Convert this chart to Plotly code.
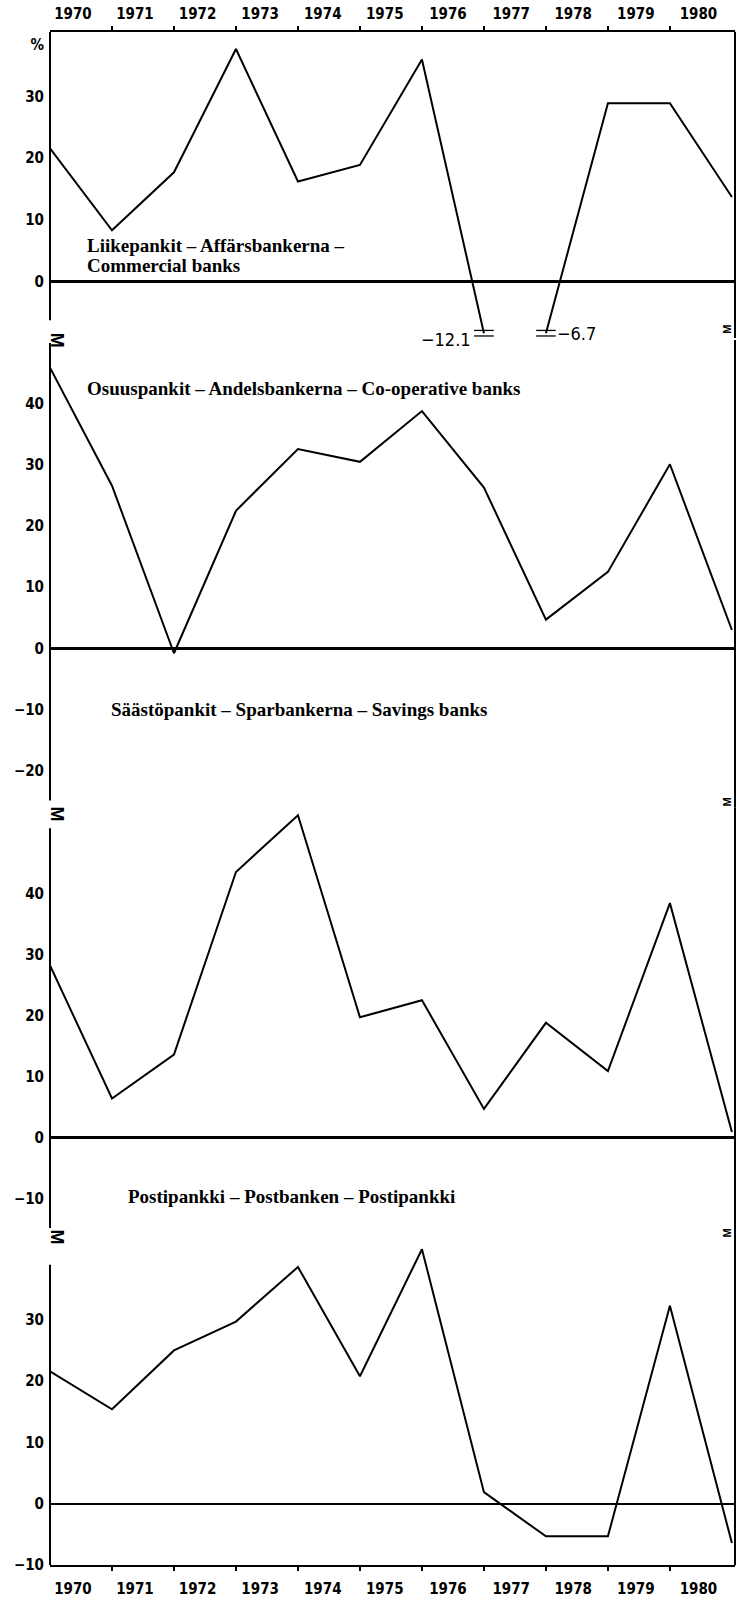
import plotly.graph_objects as go

W, H = 741, 1603

# ---------------- data ----------------
x_points = [1970, 1971, 1972, 1973, 1974, 1975, 1976, 1977, 1978, 1979, 1980, 1981]
year_labels = ["1970", "1971", "1972", "1973", "1974", "1975", "1976", "1977", "1978", "1979", "1980"]
year_label_pos = [1970.37, 1971.37, 1972.38, 1973.39, 1974.4, 1975.4,
                  1976.42, 1977.44, 1978.44, 1979.45, 1980.46]
year_bounds = [1971, 1972, 1973, 1974, 1975, 1976, 1977, 1978, 1979, 1980]

commercial = [21.6, 8.3, 17.7, 37.7, 16.2, 18.9, 36.0, -12.1, -6.7, 28.9, 28.9, 13.7]
cooperative = [45.9, 26.6, -0.8, 22.5, 32.6, 30.5, 38.8, 26.3, 4.7, 12.5, 30.1, 3.0]
savings = [28.2, 6.4, 13.6, 43.5, 52.8, 19.7, 22.5, 4.7, 18.8, 10.9, 38.4, 0.9]
postal = [21.6, 15.4, 25.0, 29.7, 38.6, 20.8, 41.5, 1.9, -5.3, -5.3, 32.3, -6.4]

# negative commercial-bank values are drawn cut off at the axis break
commercial_break_level = -8.4

p1_tickvals = [38.4, 30, 20, 10, 0]
p1_ticktext = ["%", "30", "20", "10", "0"]
p2_tickvals = [40, 30, 20, 10, 0, -10, -20]
p2_ticktext = ["40", "30", "20", "10", "0", "\u221210", "\u221220"]
p3_tickvals = [40, 30, 20, 10, 0, -10]
p3_ticktext = ["40", "30", "20", "10", "0", "\u221210"]
p4_tickvals = [30, 20, 10, 0, -10]
p4_ticktext = ["30", "20", "10", "0", "\u221210"]

label_commercial_1 = "Liikepankit \u2013 Affärsbankerna \u2013"
label_commercial_2 = "Commercial banks"
label_cooperative = "Osuuspankit \u2013 Andelsbankerna \u2013 Co-operative banks"
label_savings = "Säästöpankit \u2013 Sparbankerna \u2013 Savings banks"
label_postal = "Postipankki \u2013 Postbanken \u2013 Postipankki"

# ---------------- layout geometry (pixels) ----------------
def py(px):
    return 1 - px / H

def pxx(px):
    return px / W

X_DOM = [pxx(50), pxx(735)]
X_RANGE = [1970.0, 1981.05]

# (domain top px, domain bottom px, zero px, px per unit, axis seg top px, axis seg bottom px)
panels = [
    (32, 340, 283.0, 6.2, 32, 322),
    (342, 812, 652.0, 6.15, 345, 805),
    (812, 1245, 1144.0, 6.14, 833, 1235),
    (1245, 1574, 1512.3, 6.17, 1272, 1574),
]

def val(panel, px):
    _, _, z, ppu, _, _ = panel
    return (z - px) / ppu

SANS = "Liberation Sans Narrow, DejaVu Sans Condensed, Arial Narrow, sans-serif"
SERIF = "Liberation Serif, Times New Roman, serif"
tickfont = dict(family=SANS, size=15, color="black", weight="bold")
ytickfont = dict(family=SANS, size=15, color="black", weight="bold")

# commercial banks: cut negative values at the break, and leave a gap between cut points
c_x, c_y = [], []
prev_neg = False
for x, v in zip(x_points, commercial):
    neg = v < 0
    if neg and prev_neg:
        c_x.append(None)
        c_y.append(None)
    c_x.append(x)
    c_y.append(commercial_break_level if neg else v)
    prev_neg = neg

series = [(c_x, c_y), (x_points, cooperative), (x_points, savings), (x_points, postal)]
ticks = [(p1_tickvals, p1_ticktext), (p2_tickvals, p2_ticktext),
         (p3_tickvals, p3_ticktext), (p4_tickvals, p4_ticktext)]

fig = go.Figure()
for i, (xs, ys) in enumerate(series, start=1):
    sfx = "" if i == 1 else str(i)
    fig.add_trace(go.Scatter(
        x=xs, y=ys, mode="lines", connectgaps=False,
        line=dict(color="black", width=2),
        xaxis="x" + sfx, yaxis="y" + sfx,
        showlegend=False, hoverinfo="skip"))

# break marks (double dash) on the commercial-bank line
broken = [(x, v) for x, v in zip(x_points, commercial) if v < 0]
for dy in (0.45, -0.45):
    fig.add_trace(go.Scatter(
        x=[b[0] for b in broken], y=[commercial_break_level + dy] * len(broken),
        mode="markers",
        marker=dict(symbol="line-ew", size=14, line=dict(color="black", width=1.3)),
        xaxis="x", yaxis="y", showlegend=False, hoverinfo="skip"))

layout = dict(
    width=W, height=H,
    margin=dict(l=0, r=0, t=0, b=0),
    paper_bgcolor="white", plot_bgcolor="white",
    showlegend=False,
)

def xaxis_common():
    return dict(domain=X_DOM, range=X_RANGE, showgrid=False, zeroline=False)

minor_ticks = dict(tickmode="array", tickvals=year_bounds, ticks="outside",
                   ticklen=4, tickwidth=1.5, tickcolor="black", showgrid=False)

top_x = xaxis_common()
top_x.update(side="top", anchor="y", showline=True, linecolor="black", linewidth=2,
             tickmode="array", tickvals=year_label_pos, ticktext=year_labels,
             ticks="", tickfont=tickfont, ticklabelstandoff=5, minor=minor_ticks)
layout["xaxis"] = top_x
for i in (2, 3):
    ax = xaxis_common()
    ax.update(anchor="y%d" % i, matches="x", visible=False)
    layout["xaxis%d" % i] = ax
bot_x = xaxis_common()
bot_x.update(side="bottom", anchor="y4", matches="x", showline=True, linecolor="black",
             linewidth=2, tickmode="array", tickvals=year_label_pos, ticktext=year_labels,
             ticks="", tickfont=tickfont, ticklabelstandoff=9, minor=minor_ticks)
layout["xaxis4"] = bot_x

shapes = []
for i, p in enumerate(panels, start=1):
    top, bot, z, ppu, st, sb = p
    sfx = "" if i == 1 else str(i)
    tv, tt = ticks[i - 1]
    layout["yaxis" + sfx] = dict(
        domain=[py(bot), py(top)], range=[val(p, bot), val(p, top)],
        anchor="x" + sfx, showgrid=False, showline=False, ticks="",
        tickmode="array", tickvals=tv, ticktext=tt, tickfont=ytickfont,
        ticklabelstandoff=5,
        zeroline=True, zerolinecolor="black", zerolinewidth=2.5)
    # left axis segment
    shapes.append(dict(type="line", xref="x" + sfx + " domain", yref="y" + sfx,
                       x0=0, x1=0, y0=val(p, st), y1=val(p, sb),
                       line=dict(color="black", width=2)))
    # right frame segment
    shapes.append(dict(type="line", xref="x" + sfx + " domain", yref="y" + sfx + " domain",
                       x0=1, x1=1, y0=0, y1=1, line=dict(color="black", width=2)))
layout["shapes"] = shapes

ann = []
def label(text, xpx, ypx, size=19):
    ann.append(dict(text=text, x=pxx(xpx), y=py(ypx), xref="paper", yref="paper",
                    xanchor="left", yanchor="middle", showarrow=False, align="left",
                    borderpad=0,
                    font=dict(family=SERIF, size=size, color="black", weight="bold")))

label(label_commercial_1, 86, 247)
label(label_commercial_2, 86, 267)
label(label_cooperative, 86, 391)
label(label_savings, 110, 714)
label(label_postal, 127, 1203)

# axis-break symbols
for ypx in (332, 818, 1253):
    ann.append(dict(text="M", x=pxx(45), y=py(ypx), xref="paper", yref="paper",
                    textangle=90, showarrow=False,
                    font=dict(family="Liberation Sans, sans-serif", size=18, color="black",
                              weight="bold")))
for ypx in (325, 807, 1247):
    ann.append(dict(text="M", x=pxx(735), y=py(ypx), xref="paper", yref="paper",
                    textangle=-90, showarrow=False,
                    font=dict(family="Liberation Sans, sans-serif", size=11, color="black",
                              weight="bold")))

# hand-written true values at the break
for k, (bx, bv) in enumerate(broken):
    first = k == 0
    ann.append(dict(text=("%.1f" % bv).replace("-", "\u2212"), x=bx, y=commercial_break_level,
                    xref="x", yref="y", showarrow=False,
                    xanchor="right" if first else "left",
                    xshift=-11 if first else 9, yshift=-6 if first else 0,
                    font=dict(family="DejaVu Sans Condensed, DejaVu Sans, sans-serif",
                              size=18, color="black")))
layout["annotations"] = ann

fig.update_layout(**layout)
fig.write_html("out.html",
               config={"displayModeBar": False, "staticPlot": True},
               post_script="document.body.style.margin='0px';"
                           "document.body.style.overflow='hidden';")
